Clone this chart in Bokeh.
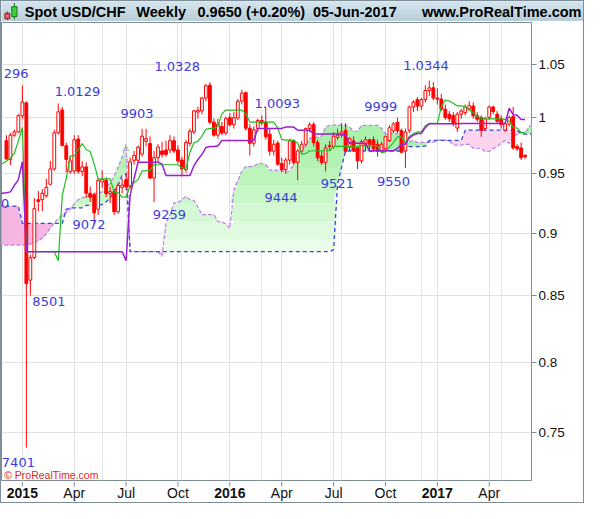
import numpy as np
from bokeh.plotting import figure
from bokeh.models import Range1d, FixedTicker, NumeralTickFormatter, Grid
from bokeh.layouts import column
from bokeh.embed import file_html
from bokeh.resources import INLINE
from bokeh.core.properties import value

# ---------------- data (week index 0 = week of 05-Jan-2015) ----------------
candle_index = list(range(-4, 127))
opens = [0.9792, 0.9626, 0.9841, 0.9870, 1.0017, 1.0135, 0.8622, 0.8801, 0.9278, 0.9279, 0.9311, 0.9410, 0.9542, 0.9862,
         1.0070, 0.9746, 0.9519, 0.9525, 0.9806, 0.9520, 0.9560, 0.9333, 0.9320, 0.9198,
         0.9430, 0.9445, 0.9330, 0.9347, 0.9177, 0.9383, 0.9449, 0.9390, 0.9618, 0.9618,
         0.9672, 0.9786, 0.9766, 0.9463, 0.9641, 0.9700, 0.9709, 0.9709, 0.9790, 0.9709,
         0.9620, 0.9536, 0.9768, 0.9870, 1.0050, 1.0061, 1.0180, 1.0300, 0.9958, 0.9841,
         0.9920, 0.9860, 1.0000, 0.9935, 0.9995, 1.0150, 1.0230, 0.9904, 0.9769, 0.9900,
         0.9973, 0.9960, 0.9850, 0.9698, 0.9770, 0.9590, 0.9537, 0.9620, 0.9790, 0.9600,
         0.9700, 0.9760, 0.9900, 0.9935, 0.9775, 0.9655, 0.9600, 0.9740, 0.9740, 0.9820,
         0.9840, 0.9884, 0.9740, 0.9790, 0.9727, 0.9613, 0.9760, 0.9800, 0.9800, 0.9760,
         0.9700, 0.9720, 0.9792, 0.9879, 0.9958, 0.9880, 0.9700, 0.9885, 1.0097, 1.0165,
         1.0106, 1.0165, 1.0250, 1.0275, 1.0180, 1.0170, 1.0076, 1.0030, 1.0017, 0.9905,
         1.0031, 1.0046, 1.0080, 1.0106, 1.0017, 1.0002, 0.9900, 1.0002, 1.0097, 1.0031,
         0.9990, 0.9885, 0.9940, 1.0010, 0.9740, 0.9727, 0.9662]
highs = [0.9841, 0.9861, 0.9891, 1.0031, 1.0296, 1.0150, 0.8825, 0.9292, 0.9352, 0.9368, 0.9457, 0.9613, 0.9889, 1.0129,
         1.0097, 0.9774, 0.9649, 0.9840, 0.9841, 0.9610, 0.9600, 0.9390, 0.9340, 0.9460,
         0.9530, 0.9470, 0.9390, 0.9370, 0.9420, 0.9460, 0.9500, 0.9640, 0.9700, 0.9750,
         0.9899, 0.9899, 0.9830, 0.9700, 0.9760, 0.9780, 0.9790, 0.9841, 0.9830, 0.9750,
         0.9650, 0.9800, 0.9900, 1.0070, 1.0100, 1.0190, 1.0310, 1.0328, 0.9990, 0.9990,
         0.9960, 1.0010, 1.0040, 1.0050, 1.0170, 1.0257, 1.0240, 0.9940, 0.9920, 0.9990,
         1.0020, 1.0093, 0.9900, 0.9800, 0.9790, 0.9640, 0.9640, 0.9810, 0.9800, 0.9720,
         0.9790, 0.9910, 0.9955, 0.9960, 0.9800, 0.9700, 0.9760, 0.9790, 0.9870, 0.9899,
         0.9950, 0.9951, 0.9820, 0.9830, 0.9740, 0.9800, 0.9830, 0.9810, 0.9830, 0.9800,
         0.9780, 0.9840, 0.9930, 0.9960, 0.9999, 0.9900, 0.9900, 1.0110, 1.0160, 1.0190,
         1.0180, 1.0300, 1.0344, 1.0330, 1.0270, 1.0220, 1.0120, 1.0060, 1.0050, 1.0050,
         1.0080, 1.0120, 1.0150, 1.0140, 1.0050, 1.0020, 1.0010, 1.0110, 1.0110, 1.0060,
         1.0020, 0.9960, 1.0020, 1.0097, 0.9760, 0.9775, 0.9670]
lows = [0.9620, 0.9577, 0.9826, 0.9861, 0.9990, 0.7401, 0.8501, 0.8790, 0.9183, 0.9183, 0.9296, 0.9403, 0.9528, 0.9848,
        0.9740, 0.9513, 0.9500, 0.9500, 0.9500, 0.9480, 0.9292, 0.9260, 0.9072, 0.9150,
        0.9380, 0.9300, 0.9250, 0.9150, 0.9160, 0.9330, 0.9360, 0.9370, 0.9580, 0.9600,
        0.9650, 0.9740, 0.9455, 0.9259, 0.9600, 0.9640, 0.9650, 0.9680, 0.9680, 0.9590,
        0.9476, 0.9510, 0.9740, 0.9850, 0.9990, 1.0030, 1.0150, 0.9940, 0.9827, 0.9810,
        0.9840, 0.9840, 0.9920, 0.9900, 0.9980, 1.0120, 0.9880, 0.9660, 0.9740, 0.9870,
        0.9930, 0.9800, 0.9660, 0.9660, 0.9570, 0.9513, 0.9500, 0.9580, 0.9580, 0.9444,
        0.9680, 0.9740, 0.9870, 0.9740, 0.9610, 0.9577, 0.9521, 0.9700, 0.9720, 0.9800,
        0.9820, 0.9680, 0.9700, 0.9690, 0.9542, 0.9590, 0.9700, 0.9700, 0.9690, 0.9650,
        0.9680, 0.9700, 0.9780, 0.9860, 0.9860, 0.9680, 0.9550, 0.9860, 1.0050, 1.0060,
        1.0070, 1.0140, 1.0200, 1.0160, 1.0120, 1.0060, 0.9980, 0.9960, 0.9920, 0.9870,
        0.9990, 1.0020, 1.0060, 0.9990, 0.9960, 0.9827, 0.9880, 0.9980, 1.0030, 0.9950,
        0.9900, 0.9870, 0.9920, 0.9710, 0.9700, 0.9620, 0.9630]
closes = [0.9630, 0.9841, 0.9870, 1.0017, 1.0144, 0.8595, 0.8801, 0.9203, 0.9263, 0.9333, 0.9383, 0.9542, 0.9862, 1.0052,
          0.9749, 0.9626, 0.9613, 0.9800, 0.9522, 0.9560, 0.9333, 0.9300, 0.9168, 0.9444,
          0.9450, 0.9330, 0.9347, 0.9177, 0.9400, 0.9403, 0.9388, 0.9605, 0.9660, 0.9733,
          0.9832, 0.9810, 0.9463, 0.9641, 0.9735, 0.9670, 0.9670, 0.9792, 0.9700, 0.9613,
          0.9542, 0.9775, 0.9876, 1.0061, 1.0067, 1.0180, 1.0295, 0.9958, 0.9841, 0.9940,
          0.9860, 0.9990, 0.9935, 1.0000, 1.0150, 1.0225, 0.9904, 0.9769, 0.9890, 0.9973,
          0.9950, 0.9827, 0.9698, 0.9760, 0.9584, 0.9537, 0.9620, 0.9790, 0.9600, 0.9700,
          0.9760, 0.9900, 0.9935, 0.9775, 0.9640, 0.9600, 0.9727, 0.9750, 0.9832, 0.9840,
          0.9870, 0.9698, 0.9812, 0.9700, 0.9613, 0.9783, 0.9800, 0.9760, 0.9720, 0.9700,
          0.9760, 0.9827, 0.9908, 0.9943, 0.9880, 0.9689, 0.9870, 1.0097, 1.0142, 1.0106,
          1.0165, 1.0250, 1.0275, 1.0180, 1.0170, 1.0076, 1.0000, 0.9990, 0.9943, 1.0031,
          1.0060, 1.0097, 1.0110, 1.0017, 0.9985, 0.9885, 0.9990, 1.0097, 1.0055, 0.9967,
          0.9935, 0.9943, 1.0000, 0.9727, 0.9720, 0.9641, 0.9650]

line_index = list(range(-6, 127))
tenkan = [0.9580, 0.9590, 0.9610, 0.9640, 0.9680, 0.9790, 0.9910,
          0.8849, 0.8849, 0.8849, 0.8849, 0.8849, 0.8849, 0.8849, 0.8849,
          0.8776, 0.9315, 0.9460, 0.9656, 0.9656, 0.9713, 0.9766, 0.9711, 0.9695, 0.9585, 0.9457,
          0.9457, 0.9457, 0.9457, 0.9341, 0.9336, 0.9301, 0.9301, 0.9395, 0.9425, 0.9450, 0.9525, 0.9525, 0.9530,
          0.9579, 0.9579, 0.9579, 0.9579, 0.9579, 0.9579, 0.9579,
          0.9550, 0.9550, 0.9688, 0.9773, 0.9788, 0.9833, 0.9893, 0.9902, 0.9902, 0.9919, 1.0034,
          1.0069, 1.0069, 1.0069, 1.0069, 1.0069,
          1.0034,
          0.9959, 0.9959, 0.9959, 0.9959, 0.9959, 0.9959, 0.9959,
          0.9905, 0.9803, 0.9797, 0.9797, 0.9797, 0.9769, 0.9672, 0.9677, 0.9700,
          0.9702, 0.9702, 0.9702, 0.9702, 0.9702,
          0.9741, 0.9741, 0.9741, 0.9741,
          0.9736, 0.9736, 0.9736,
          0.9747, 0.9747, 0.9747, 0.9747, 0.9747,
          0.9686, 0.9691, 0.9736, 0.9775, 0.9825, 0.9825, 0.9775, 0.9830, 0.9855, 0.9870, 0.9870, 0.9925, 0.9947, 0.9947, 0.9947,
          1.0102, 1.0162, 1.0152, 1.0132, 1.0107, 1.0107, 1.0100, 1.0070, 1.0045, 1.0010,
          0.9989, 0.9989, 0.9989, 0.9989, 0.9989, 0.9989,
          0.9984, 0.9969, 0.9910, 0.9905, 0.9865, 0.9865]
kijun = [0.9325, 0.9333, 0.9338, 0.9345, 0.9400, 0.9450, 0.9605,
         0.8849, 0.8849, 0.8849, 0.8849, 0.8849, 0.8849, 0.8849, 0.8849, 0.8849, 0.8849,
         0.8849, 0.8849, 0.8849, 0.8849, 0.8849, 0.8849, 0.8849, 0.8849, 0.8849, 0.8849,
         0.8849, 0.8849, 0.8849, 0.8849, 0.8849,
         0.8776, 0.9315, 0.9460,
         0.9601, 0.9601, 0.9601, 0.9601, 0.9601, 0.9601,
         0.9585,
         0.9486, 0.9486, 0.9486, 0.9486, 0.9486, 0.9486, 0.9486,
         0.9571, 0.9625, 0.9670, 0.9730, 0.9739, 0.9739, 0.9744,
         0.9794, 0.9794, 0.9794, 0.9794, 0.9794, 0.9794, 0.9794, 0.9794, 0.9794,
         0.9902, 0.9902, 0.9902, 0.9902, 0.9902, 0.9902, 0.9902,
         0.9914, 0.9914, 0.9914,
         0.9886, 0.9886, 0.9886, 0.9886,
         0.9851, 0.9851, 0.9851, 0.9851, 0.9851, 0.9851, 0.9851, 0.9851,
         0.9842,
         0.9769, 0.9769, 0.9769, 0.9769, 0.9769,
         0.9702, 0.9702, 0.9702, 0.9702, 0.9702, 0.9702, 0.9702,
         0.9722, 0.9760, 0.9760, 0.9816, 0.9841, 0.9856, 0.9856, 0.9911,
         0.9943, 0.9943, 0.9943, 0.9943, 0.9943, 0.9943, 0.9943, 0.9943,
         0.9947, 0.9947, 0.9947, 0.9947, 0.9947, 0.9947, 0.9947, 0.9947, 0.9947, 0.9947, 0.9947, 0.9947,
         1.0086, 1.0027, 1.0022, 0.9982, 0.9982]

span_index = list(range(-6, 129))
span_a = [0.8902, 0.8902, 0.8902, 0.8902, 0.8902, 0.8902, 0.8902,
          0.8905, 0.8910, 0.8920, 0.8935, 0.8960, 0.8995, 0.9040, 0.9085, 0.9120, 0.9150,
          0.9170, 0.9200, 0.9240, 0.9279, 0.9295, 0.9306, 0.9315, 0.9325, 0.9333, 0.9345,
          0.9380, 0.9420, 0.9480, 0.9560, 0.9650, 0.9758,
          0.8849, 0.8849, 0.8849, 0.8849, 0.8849, 0.8849, 0.8849, 0.8849,
          0.8812, 0.9082, 0.9154, 0.9252, 0.9252, 0.9281, 0.9307, 0.9280, 0.9272, 0.9217,
          0.9153, 0.9153, 0.9153, 0.9153,
          0.9095, 0.9092, 0.9075, 0.9038, 0.9355, 0.9442, 0.9525, 0.9563, 0.9563, 0.9565, 0.9590, 0.9590, 0.9582,
          0.9532, 0.9532, 0.9532, 0.9532,
          0.9518, 0.9518, 0.9587, 0.9672, 0.9707, 0.9752, 0.9812, 0.9821, 0.9821, 0.9832, 0.9914,
          0.9931, 0.9931, 0.9931, 0.9931, 0.9931,
          0.9914, 0.9876, 0.9876,
          0.9930, 0.9930, 0.9930, 0.9930, 0.9930,
          0.9904, 0.9853,
          0.9855, 0.9855, 0.9855,
          0.9827, 0.9779, 0.9782, 0.9793,
          0.9776, 0.9776, 0.9776, 0.9776, 0.9776,
          0.9796, 0.9796, 0.9796, 0.9791,
          0.9752, 0.9752, 0.9752, 0.9758, 0.9758,
          0.9724, 0.9724, 0.9724,
          0.9694, 0.9697, 0.9719, 0.9739, 0.9773, 0.9792, 0.9767, 0.9823, 0.9848, 0.9863, 0.9863, 0.9918, 0.9945]
span_b = [0.9225, 0.9225, 0.9225, 0.9225, 0.9225, 0.9225,
          0.9081, 0.9081, 0.9081, 0.9081, 0.9081, 0.9081, 0.9081, 0.9081, 0.9081, 0.9081, 0.9081,
          0.9198, 0.9210, 0.9210, 0.9210, 0.9210, 0.9230, 0.9230, 0.9230, 0.9230,
          0.9238, 0.9260, 0.9292, 0.9347, 0.9400, 0.9486, 0.9500,
          0.8849, 0.8849, 0.8849, 0.8849, 0.8849, 0.8849, 0.8849, 0.8849, 0.8849, 0.8849,
          0.8849, 0.8849, 0.8849, 0.8849, 0.8849, 0.8849, 0.8849, 0.8849, 0.8849, 0.8849,
          0.8849, 0.8849, 0.8849, 0.8849, 0.8849, 0.8849, 0.8849, 0.8849, 0.8849, 0.8849,
          0.8849, 0.8849, 0.8849, 0.8849, 0.8849, 0.8849, 0.8849, 0.8849, 0.8849, 0.8849,
          0.8849, 0.8849, 0.8849, 0.8849, 0.8849, 0.8849, 0.8849, 0.8849, 0.8849, 0.8849,
          0.8849,
          0.8865, 0.9415, 0.9559,
          0.9700, 0.9700, 0.9700, 0.9700, 0.9700, 0.9700, 0.9700, 0.9700, 0.9700, 0.9700,
          0.9700, 0.9700, 0.9700, 0.9700, 0.9700,
          0.9739, 0.9739, 0.9739, 0.9739, 0.9739,
          0.9744,
          0.9794, 0.9794, 0.9794, 0.9794, 0.9794, 0.9794, 0.9794, 0.9794, 0.9794,
          0.9886, 0.9886, 0.9886, 0.9886, 0.9886, 0.9886, 0.9886, 0.9886, 0.9886, 0.9886,
          0.9886, 0.9886, 0.9886, 0.9886,
          0.9851, 0.9851, 0.9851, 0.9851]

tick_index = [0, 13, 26, 39, 52, 65, 78, 91, 104, 117]
tick_labels = ["2015", "Apr", "Jul", "Oct", "2016", "Apr", "Jul", "Oct", "2017", "Apr"]
price_ticks = [0.75, 0.8, 0.85, 0.9, 0.95, 1.0, 1.05]

# swing high / low annotations as they appear (the two at the left edge are cut in the source)
swing_texts = ["296", "0", "1.0129", "9903", "1.0328", "1.0093", "9999", "1.0344",
               "9072", "8501", "7401", "9259", "9444", "9521", "9550"]
swing_x = [1.55, -3.3, 13.8, 28.75, 38.8, 63.9, 89.8, 101.15,
           16.7, 6.65, -1.0, 36.85, 64.8, 78.9, 93.0]
swing_y = [1.0407, 0.9246, 1.0245, 1.0039, 1.0477, 1.0131, 1.0098, 1.0486,
           0.9072, 0.8458, 0.7304, 0.9150, 0.9299, 0.9413, 0.9437]
swing_align = ["right", "right"] + ["center"] * 13

title_parts = ["Spot USD/CHF", "Weekly", "0.9650 (+0.20%)", "05-Jun-2017", "www.ProRealTime.com"]

assert len(opens) == len(candle_index) == len(highs) == len(lows) == len(closes)
assert len(tenkan) == len(line_index) == len(kijun), (len(tenkan), len(kijun))
assert len(span_a) == len(span_index) == len(span_b), (len(span_a), len(span_b))

FONT = "Liberation Sans"
EDGE = "#7d8e98"

# ---------------- header ----------------
h = figure(width=582, height=20, x_range=Range1d(0, 582), y_range=Range1d(0, 20),
           toolbar_location=None, output_backend="svg", x_axis_type=None, y_axis_type=None,
           min_border=0)
try:
    h.frame_align = False
except Exception:
    pass
h.grid.visible = False
h.outline_line_color = None
h.background_fill_color = "#c4d8e2"
h.border_fill_color = "#c4d8e2"
band_cols = ["#b9cfda", "#bfd4de", "#c5d9e2", "#cbdde6", "#d1e2ea"]
h.quad(left=[0] * 5, right=[582] * 5, bottom=[0, 4, 8, 12, 16], top=[4, 8, 12, 16, 20],
       fill_color=band_cols, line_color=None)
h.segment(x0=[5.8], y0=[1.5], x1=[5.8], y1=[10.0], line_color="#8b1a1a", line_width=1)
h.segment(x0=[12.9], y0=[2.0], x1=[12.9], y1=[18.5], line_color="#1b6e1b", line_width=1)
h.rect(x=[5.8], y=[5.5], width=4.8, height=5.5, fill_color="#f25c5c", line_color="#8b1a1a")
h.rect(x=[12.9], y=[9.8], width=5.2, height=10.0, fill_color="#3ad33a", line_color="#1b6e1b")
hx = [23.3, 134.8, 196.0, 311.4, 580.0]
for k, t in enumerate(title_parts):
    h.text(x=[hx[k]], y=[10.0], text=[t], text_align="right" if k == 4 else "left",
           text_baseline="middle", text_font=value(FONT),
           text_font_size=value("14.5px"), text_font_style="bold", text_color="#000000")

# ---------------- main chart ----------------
p = figure(frame_width=530, frame_height=458,
           x_range=Range1d(-5.23, 127.6), y_range=Range1d(0.7182, 1.0906),
           y_axis_type="log", y_axis_location="right", x_axis_location=None,
           toolbar_location=None, output_backend="svg",
           min_border_left=0, min_border_right=52, min_border_top=1, min_border_bottom=1)
p.background_fill_color = "white"
p.border_fill_color = "white"
p.outline_line_color = EDGE
p.outline_line_width = 1
p.add_layout(Grid(dimension=0, ticker=FixedTicker(ticks=tick_index), grid_line_color="#e1e1e1"))

sx = np.array(span_index, dtype=float)
A = np.array(span_a)
B = np.array(span_b)
upper = np.maximum(A, B)
edges = [0.86, 0.895, 0.91, 0.925, 0.94, 0.955, 0.97, 1.08]
greens = ["#ebfceb", "#dffadf", "#d3f8d3", "#c7f6c7", "#bcf4bc", "#b3f2b3", "#abf0ab"]
for lo, hi, col in zip(edges[:-1], edges[1:], greens):
    p.varea(x=sx, y1=np.clip(B, lo, hi), y2=np.clip(upper, lo, hi), fill_color=col)
left = sx < 50
p.varea(x=sx, y1=A, y2=np.where(left, upper, A), fill_color="#f6b6e2")
p.varea(x=sx, y1=A, y2=np.where(~left, upper, A), fill_color="#fbd5ee")

p.line(span_index, span_a, line_color="#c27cf2", line_dash="4 2", line_width=1.2)
p.line(span_index, span_b, line_color="#3546e6", line_dash="4 3", line_width=1.3)

ci = np.array(candle_index, dtype=float)
o = np.array(opens)
hh = np.array(highs)
ll = np.array(lows)
c = np.array(closes)
up = c >= o
p.segment(x0=ci, y0=ll, x1=ci, y1=hh, line_color="#ff0000", line_width=1)
p.vbar(x=ci[up], bottom=o[up], top=c[up], width=0.7, fill_color="white",
       line_color="#ff0000", line_width=1)
p.vbar(x=ci[~up], bottom=c[~up], top=o[~up], width=0.7, fill_color="#ff0000",
       line_color="#ff0000", line_width=1)

p.line(line_index, tenkan, line_color="#1fbf1f", line_width=1.2)
p.line(line_index, kijun, line_color="#9a1ed2", line_width=1.5)

for al in ("right", "center"):
    sel = [k for k in range(len(swing_texts)) if swing_align[k] == al]
    p.text(x=[swing_x[k] for k in sel], y=[swing_y[k] for k in sel],
           text=[swing_texts[k] for k in sel], text_align=al, text_baseline="middle",
           text_font=value("DejaVu Sans"), text_font_size=value("13px"), text_color="#3c3cdc")

p.text(x=[-4.57], y=[0.7216], text=["\u00a9 ProRealTime.com"], text_align="left",
       text_baseline="middle", text_font=value(FONT),
       text_font_size=value("10.5px"), text_color="#ee1c1c")

p.yaxis.ticker = FixedTicker(ticks=price_ticks)
p.yaxis.formatter = NumeralTickFormatter(format="0.[00]")
p.yaxis.axis_line_color = None
p.yaxis.major_tick_in = 0
p.yaxis.major_tick_out = 5
p.yaxis.major_tick_line_color = EDGE
p.yaxis.minor_tick_line_color = None
p.yaxis.major_label_standoff = 2
p.yaxis.major_label_text_font = FONT
p.yaxis.major_label_text_color = "#111111"
p.yaxis.major_label_text_font_size = "13.5px"
p.ygrid.grid_line_color = "#e1e1e1"

# ---------------- date axis strip (shares the chart's x scale) ----------------
f = figure(frame_width=530, height=21, x_range=p.x_range, y_range=Range1d(0, 21),
           toolbar_location=None, output_backend="svg", x_axis_type=None, y_axis_type=None,
           min_border_left=0, min_border_right=52, min_border_top=0, min_border_bottom=0)
f.grid.visible = False
f.outline_line_color = None
f.background_fill_color = "white"
f.border_fill_color = "white"
f.segment(x0=tick_index, y0=[21] * len(tick_index), x1=tick_index, y1=[16] * len(tick_index),
          line_color=EDGE, line_width=1)
for k, lab in enumerate(tick_labels):
    is_year = lab[0].isdigit()
    f.text(x=[tick_index[k]], y=[9.5], text=[lab], text_align="center", text_baseline="middle",
           text_font=value(FONT), text_font_size=value("14px"),
           text_font_style="bold" if is_year else "normal", text_color="#111111")

layout = column(h, p, f, styles={"border": "1px solid " + EDGE})
open("out.html", "w").write(file_html(layout, INLINE))
